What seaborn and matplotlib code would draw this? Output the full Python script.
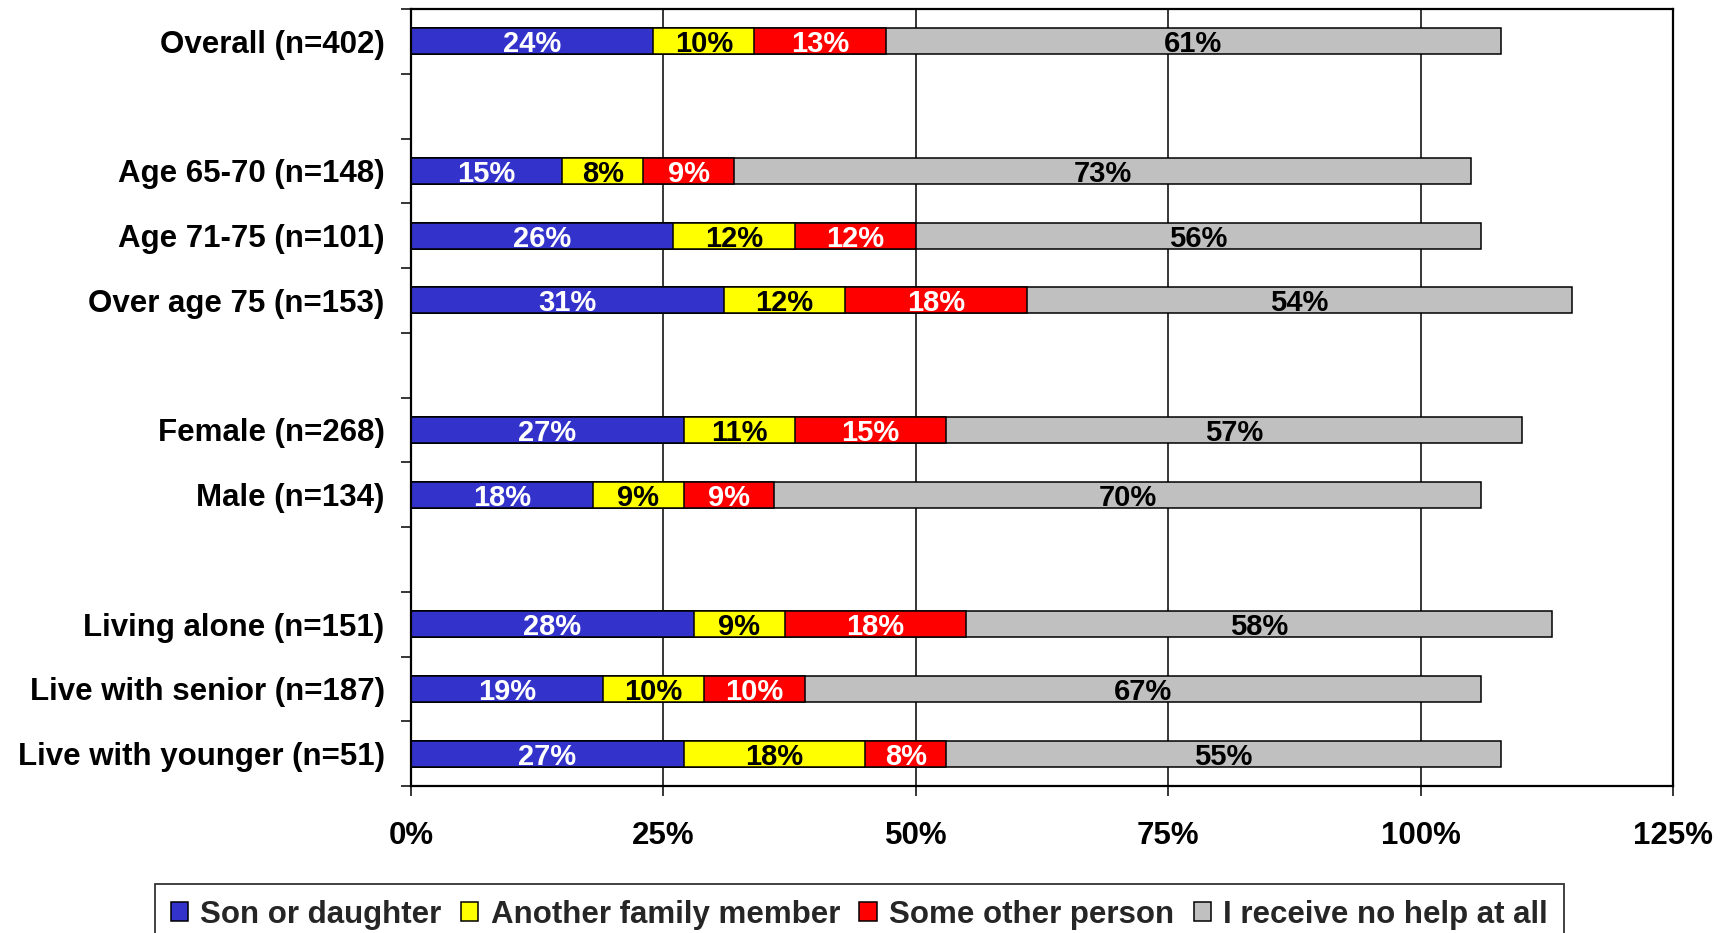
import matplotlib
matplotlib.use("Agg")
import matplotlib.pyplot as plt
from matplotlib.patches import Patch
import numpy as np
import pandas as pd
import seaborn as sns

# Category slots top to bottom; blank entries are spacer rows between groups
groups = ["Overall (n=402)", " ", "Age 65-70 (n=148)", "Age 71-75 (n=101)",
          "Over age 75 (n=153)", "  ", "Female (n=268)", "Male (n=134)", "   ",
          "Living alone (n=151)", "Live with senior (n=187)", "Live with younger (n=51)"]
categories = ["Overall (n=402)", "Age 65-70 (n=148)", "Age 71-75 (n=101)",
              "Over age 75 (n=153)", "Female (n=268)", "Male (n=134)",
              "Living alone (n=151)", "Live with senior (n=187)", "Live with younger (n=51)"]

son_daughter = [24, 15, 26, 31, 27, 18, 28, 19, 27]
family_member = [10, 8, 12, 12, 11, 9, 9, 10, 18]
other_person = [13, 9, 12, 18, 15, 9, 18, 10, 8]
no_help = [61, 73, 56, 54, 57, 70, 58, 67, 55]

series_names = ["Son or daughter", "Another family member", "Some other person", "I receive no help at all"]
series_values = [son_daughter, family_member, other_person, no_help]
colors = ["#3333CC", "#FFFF00", "#FF0000", "#C0C0C0"]
text_colors = ["white", "black", "white", "black"]
x_ticks = [0, 25, 50, 75, 100, 125]

sns.set_theme(style="white")
plt.rcParams["font.family"] = ["Liberation Sans", "DejaVu Sans"]
plt.rcParams["font.weight"] = "bold"

fig = plt.figure(figsize=(17.31, 9.33), dpi=100)
ax = fig.add_axes([411 / 1731, 1 - 786 / 933, (1673 - 411) / 1731, (786 - 9) / 933])

vals = np.array(series_values, dtype=float)
cum = np.cumsum(vals, axis=0)

# stacked bars: draw cumulative totals from the longest down so each segment shows
for i in range(len(series_names) - 1, -1, -1):
    df = pd.DataFrame({"group": categories, "value": cum[i]})
    sns.barplot(data=df, x="value", y="group", order=groups, orient="h",
                color=colors[i], saturation=1, width=0.4, errorbar=None,
                edgecolor="black", linewidth=1.1, ax=ax, zorder=2)

# value labels centred in each segment
pos = {g: k for k, g in enumerate(groups)}
for i in range(len(series_names)):
    start = cum[i] - vals[i]
    for j, cat in enumerate(categories):
        ax.text(start[j] + vals[i][j] / 2, pos[cat], f"{int(vals[i][j])}%",
                ha="center", va="center_baseline", color=text_colors[i],
                fontsize=21, fontweight="bold", zorder=5)

ax.set_xlim(0, 125)
ax.set_ylim(len(groups) - 0.5, -0.5)
ax.set_xticks(x_ticks)
ax.set_xticklabels([f"{t}%" for t in x_ticks], fontsize=22.5, fontweight="bold")
ax.set_yticks(range(len(groups)))
ax.set_yticklabels([g.strip() for g in groups], fontsize=22.5, fontweight="bold")
ax.set_yticks(np.arange(-0.5, len(groups), 1.0), minor=True)
ax.set_xlabel("")
ax.set_ylabel("")

ax.tick_params(axis="y", which="major", length=0, pad=19, colors="black")
ax.tick_params(axis="y", which="minor", left=True, length=7, width=1.1, color="black")
ax.tick_params(axis="x", which="major", bottom=True, length=7, width=1.1,
               direction="out", pad=18, colors="black")

ax.xaxis.grid(True, color="black", linewidth=1.1)
ax.yaxis.grid(False)
ax.set_axisbelow(True)
for sp in ax.spines.values():
    sp.set_visible(True)
    sp.set_color("black")
    sp.set_linewidth(1.6)

handles = [Patch(facecolor=c, edgecolor="black", linewidth=1.1) for c in colors]
leg = fig.legend(handles, series_names, loc="upper left",
                 bbox_to_anchor=(155 / 1731, 1 - 884 / 933), ncol=4,
                 frameon=True, fancybox=False, edgecolor="black",
                 prop={"size": 22.5, "weight": "bold"},
                 handlelength=0.55, handleheight=0.55, handletextpad=0.4,
                 columnspacing=0.62, borderpad=0.5, borderaxespad=0)
leg.get_frame().set_linewidth(1.3)

fig.savefig("out.png", dpi=100, facecolor="white")
